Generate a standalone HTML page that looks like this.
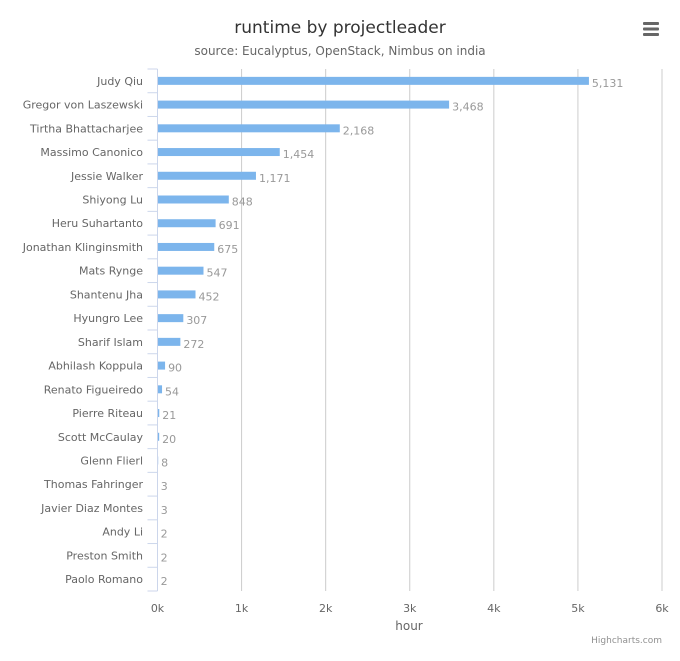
<!DOCTYPE html>
<html><head><meta charset="utf-8"><style>
body{margin:0;background:#fff;}
svg{font-family:"DejaVu Sans","Liberation Sans",sans-serif;}
</style></head><body>
<svg id="chart" width="680" height="656">
<rect width="680" height="656" fill="#fff"/>
<text x="340" y="33" text-anchor="middle" font-size="17" fill="#333">runtime by projectleader</text>
<text x="340" y="55" text-anchor="middle" font-size="12" fill="#666">source: Eucalyptus, OpenStack, Nimbus on india</text>
<g>
<rect x="643" y="22" width="16" height="3" rx="1" fill="#666"/>
<rect x="643" y="27.5" width="16" height="3" rx="1" fill="#666"/>
<rect x="643" y="33" width="16" height="3" rx="1" fill="#666"/>
</g>
<g id="grid"></g><g id="bars"></g><g id="axes"></g>
<text x="409" y="630" text-anchor="middle" font-size="12" fill="#666">hour</text>
<text x="662" y="643" text-anchor="end" font-size="9" fill="#909090">Highcharts.com</text>
</svg>
<script>
const categories=["Judy Qiu","Gregor von Laszewski","Tirtha Bhattacharjee","Massimo Canonico","Jessie Walker","Shiyong Lu","Heru Suhartanto","Jonathan Klinginsmith","Mats Rynge","Shantenu Jha","Hyungro Lee","Sharif Islam","Abhilash Koppula","Renato Figueiredo","Pierre Riteau","Scott McCaulay","Glenn Flierl","Thomas Fahringer","Javier Diaz Montes","Andy Li","Preston Smith","Paolo Romano"];
const values=[5131,3468,2168,1454,1171,848,691,675,547,452,307,272,90,54,21,20,8,3,3,2,2,2];
const tickValues=[0,1000,2000,3000,4000,5000,6000];
const tickLabels=["0k","1k","2k","3k","4k","5k","6k"];
const NS="http://www.w3.org/2000/svg";
const L=157.5,R=662,T=69,B=591,XMAX=6000;
const x=v=>L+(R-L)*v/XMAX;
const band=(B-T)/categories.length;
const yc=i=>T+band*(i+0.5);
function mk(tag,attrs,parent,txt){const e=document.createElementNS(NS,tag);for(const k in attrs)e.setAttribute(k,attrs[k]);if(txt!=null)e.textContent=txt;parent.appendChild(e);return e;}
const grid=document.getElementById('grid'),bars=document.getElementById('bars'),axes=document.getElementById('axes');
tickValues.forEach((v,i)=>{
  if(i>0){const g=mk('line',{x1:x(v),x2:x(v),y1:T,y2:B,stroke:'#ccc','stroke-width':1},grid);
  
  }
  const t=mk('text',{x:x(v),y:612,'text-anchor':'middle','font-size':11,fill:'#666'},axes,tickLabels[i]);
  
  
});
const ax=mk('line',{x1:L,x2:L,y1:T,y2:B,stroke:'#ccd6eb','stroke-width':1},axes);


for(let i=0;i<=categories.length;i++){
  const tk=mk('line',{x1:L-10,x2:L,y1:T+band*i,y2:T+band*i,stroke:'#ccd6eb','stroke-width':1},axes);
  
  
}
categories.forEach((c,i)=>{
  const lb=mk('text',{x:143,y:yc(i)+4,'text-anchor':'end','font-size':11,fill:'#666'},axes,c);
  
  
  const w=Math.max(x(values[i])-x(0),0);
  const r=mk('rect',{x:L,y:yc(i)-4,width:w,height:8,fill:'#7cb5ec'},bars);
  
  
  const vl=mk('text',{x:L+w+3,y:yc(i)+6,'font-size':11,fill:'#999'},bars,values[i].toLocaleString('en-US'));
  
  
});
</script>
</body></html>
